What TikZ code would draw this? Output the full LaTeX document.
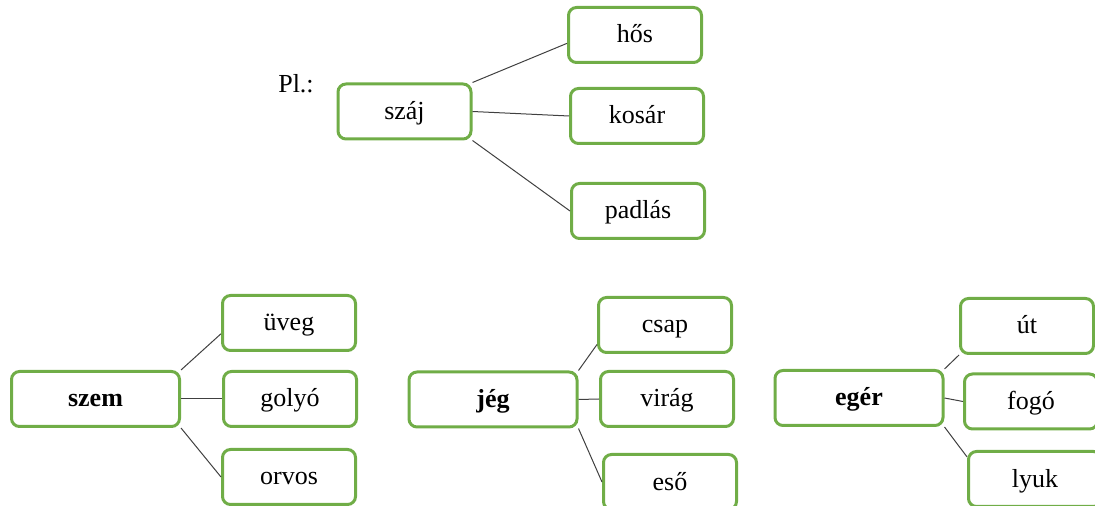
\documentclass[tikz,border=0pt]{standalone}
\usepackage{fontspec}
\setmainfont{Liberation Serif}
\definecolor{boxgreen}{RGB}{112,173,71}

\begin{document}
\begin{tikzpicture}[x=1pt,y=1pt,
                word node/.style={rectangle,rounded corners=8pt,draw=boxgreen,line width=3pt,
                  minimum width=133pt,minimum height=55pt,inner sep=0pt,
                  text height=18pt,text depth=2pt,
                  font=\fontsize{26}{30}\selectfont},
                root node/.style={word node,minimum width=168pt,font=\fontsize{26}{30}\selectfont\bfseries},
                link/.style={draw=black!75,line width=1pt}]
                \useasboundingbox (0,0) rectangle (1095,506);

                % example
                \node (pl) at (296,422) {\fontsize{26}{30}\selectfont Pl.:};
                \node[word node] (szaj) at (404.5,394.5) {száj};
                \node[word node] (hos) at (635,471) {hős};
                \node[word node] (kosar) at (637,390) {kosár};
                \node[word node] (padlas) at (638,295) {padlás};

                % szem
                \node[root node] (szem) at (95.5,107) {szem};
                \node[word node] (uveg) at (289,183) {üveg};
                \node[word node] (golyo) at (290,107) {golyó};
                \node[word node] (orvos) at (289,29) {orvos};

                % jeg
                \node[root node] (jeg) at (493,106.5) {jég};
                \node[word node] (csap) at (665,181) {csap};
                \node[word node] (virag) at (667,107) {virág};
                \node[word node] (eso) at (670,24) {eső};

                % eger
                \node[root node] (eger) at (859,108) {egér};
                \node[word node] (ut) at (1027,180) {út};
                \node[word node] (fogo) at (1031,104.5) {fogó};
                \node[word node] (lyuk) at (1035,27) {lyuk};

                \path[link]
                (szaj.north east) edge (hos.187)
                (szaj.east) edge (kosar.west)
                (szaj.south east) edge (padlas.west)
                (szem.north east) edge (uveg.189)
                (szem.east) edge (golyo.west)
                (szem.south east) edge (orvos.west)
                (jeg.north east) edge (csap.196)
                (jeg.east) edge (virag.west)
                (jeg.south east) edge (eso.west)
                (eger.north east) edge (ut.south west)
                (eger.east) edge (fogo.west)
                (eger.south east) edge (lyuk.162)
                ;
\end{tikzpicture}
\end{document}
